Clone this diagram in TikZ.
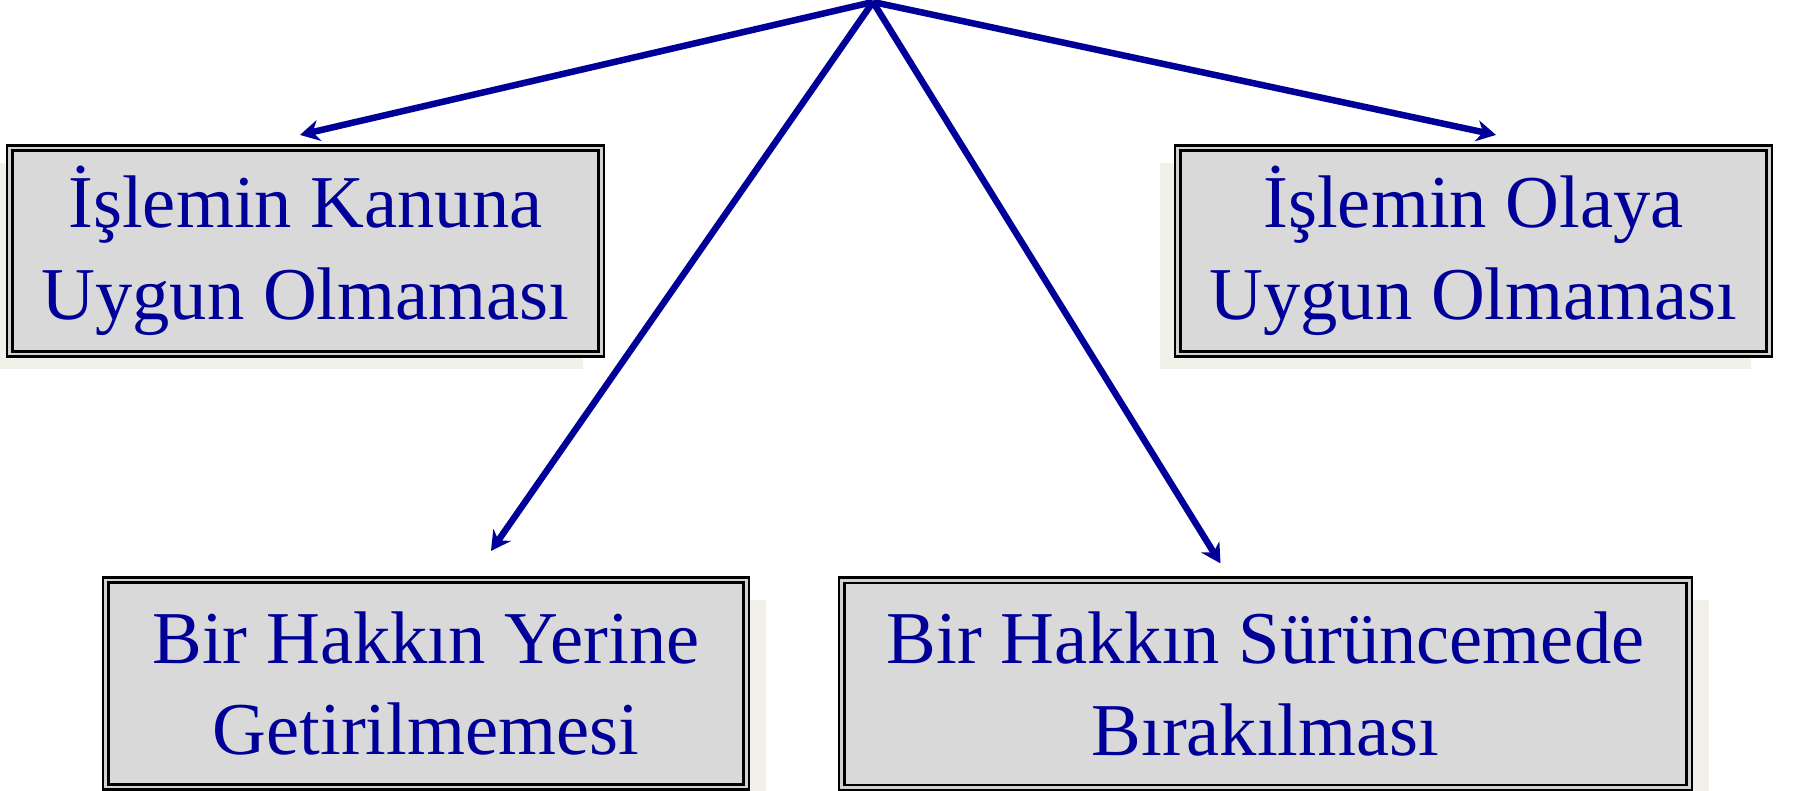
\documentclass[tikz,border=0pt]{standalone}
\usepackage{fontspec}
\setmainfont{Liberation Serif}
\usepackage{xcolor}
\usepackage{tikz}
\usetikzlibrary{positioning}
\usetikzlibrary{arrows.meta, shadows}
\definecolor{navyblue}{rgb}{0, 0, 0.6}
\definecolor{boxgray}{rgb}{0.85, 0.85, 0.85}
\definecolor{shadowbeige}{rgb}{0.95, 0.945, 0.915}
\tikzstyle{box} = [rectangle, draw=black, line width=0.027cm, double=gray!35, double distance=0.027cm, fill=boxgray, inner sep=0pt, outer sep=0pt, align=center, text=navyblue, font=\fontsize{21.2}{26}\selectfont]
\tikzstyle{shadowleft} = [drop shadow={shadow xshift=-0.18cm, shadow yshift=-0.15cm, fill=shadowbeige, opacity=1}]
\tikzstyle{shadowright} = [drop shadow={shadow xshift=0.2cm, shadow yshift=-0.2cm, fill=shadowbeige, opacity=1}]
\tikzstyle{pointer} = [draw=navyblue, line width=0.065cm, -{Stealth[length=5.5pt, width=6pt]}]

\begin{document}
\begin{tikzpicture}[x=0.01cm, y=-0.01cm]
\useasboundingbox (0,0) rectangle (1793,791);
\coordinate (apex) at (873,2);
\draw (305.5,251) node (kanuna) [box, shadowleft, minimum width=5.91cm, minimum height=2.06cm] {İşlemin Kanuna\\Uygun Olmaması};
\draw (1473.5,251) node (olaya) [box, shadowleft, minimum width=5.91cm, minimum height=2.06cm] {İşlemin Olaya\\Uygun Olmaması};
\draw (426,683.5) node (yerine) [box, shadowright, minimum width=6.40cm, minimum height=2.07cm] {Bir Hakkın Yerine\\Getirilmemesi};
\draw (1265.5,684) node (surunce) [box, shadowright, minimum width=8.47cm, minimum height=2.07cm] {Bir Hakkın Sürüncemede\\Bırakılması};
% oklar
\draw[pointer] (apex)--([shift={(-5.5,-13)}]kanuna.north);
\draw[pointer] (apex)--([shift={(22.5,-13)}]olaya.north);
\draw[pointer] (apex)--([shift={(65,-29)}]yerine.north);
\draw[pointer] (apex)--([shift={(-45,-17)}]surunce.north);
\end{tikzpicture}
\end{document}
